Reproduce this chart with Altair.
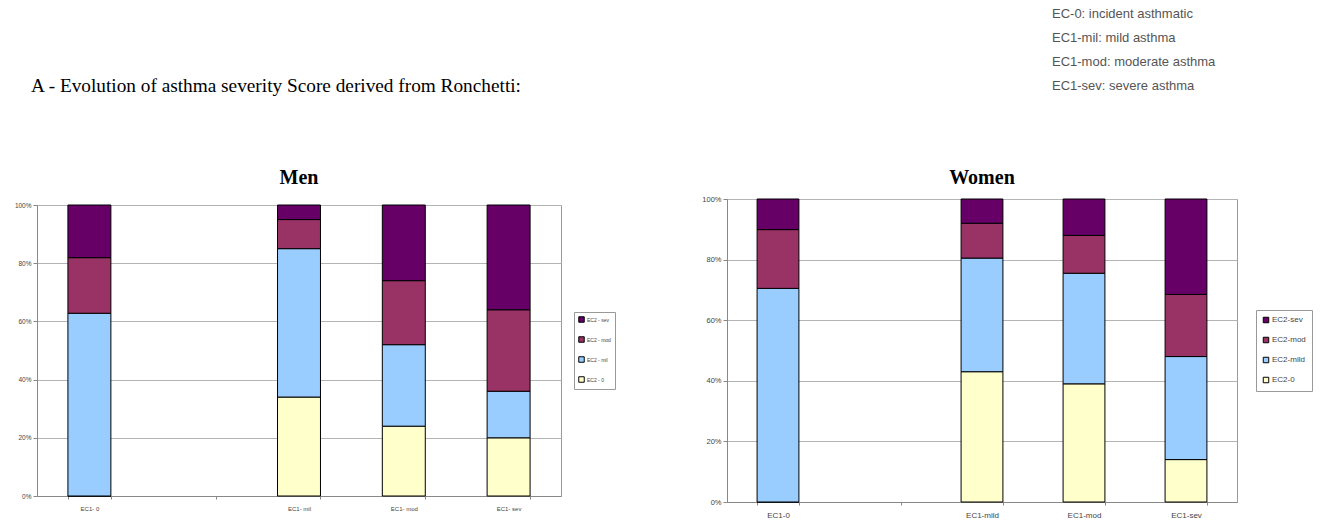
import altair as alt
import pandas as pd

heading = "A - Evolution of asthma severity Score derived from Ronchetti:"
notes = ["EC-0: incident asthmatic", "EC1-mil: mild asthma",
         "EC1-mod: moderate asthma", "EC1-sev: severe asthma"]

# Men
men_categories = ["EC1- 0", " ", "EC1- mil", "EC1- mod", "EC1- sev"]
men_bars = ["EC1- 0", "EC1- mil", "EC1- mod", "EC1- sev"]
men_series = ["EC2 - sev", "EC2 - mod", "EC2 - mil", "EC2 - 0"]
men_ec2_0 = [0, 34, 24, 20]
men_ec2_mild = [62.8, 51, 28, 16]
men_ec2_mod = [19.1, 10, 22, 28]
men_ec2_sev = [18.1, 5, 26, 36]

# Women
women_categories = ["EC1-0", " ", "EC1-mild", "EC1-mod", "EC1-sev"]
women_bars = ["EC1-0", "EC1-mild", "EC1-mod", "EC1-sev"]
women_series = ["EC2-sev", "EC2-mod", "EC2-mild", "EC2-0"]
women_ec2_0 = [0, 43, 39, 14]
women_ec2_mild = [70.5, 37.5, 36.5, 34]
women_ec2_mod = [19.4, 11.5, 12.5, 20.5]
women_ec2_sev = [10.1, 8, 12, 31.5]

colors = ["#660066", "#993366", "#99CCFF", "#FFFFCC"]  # sev, mod, mild, 0


def long_df(bars, series, s0, smild, smod, ssev):
    rows = []
    stacks = [(series[3], s0, 0), (series[2], smild, 1), (series[1], smod, 2), (series[0], ssev, 3)]
    for i, c in enumerate(bars):
        for name, vals, rank in stacks:
            rows.append({"cat": c, "series": name, "value": vals[i], "rank": rank})
    return pd.DataFrame(rows)


men_df = long_df(men_bars, men_series, men_ec2_0, men_ec2_mild, men_ec2_mod, men_ec2_sev)
women_df = long_df(women_bars, women_series, women_ec2_0, women_ec2_mild, women_ec2_mod, women_ec2_sev)


def panel(df, cats, series, title, w, h, toff, lx, ly, xlab, ylab, leg_size, row_pad, leg_pad):
    return alt.Chart(df).mark_bar(stroke="black", strokeWidth=1).encode(
        x=alt.X("cat:N", sort=cats,
                scale=alt.Scale(domain=cats, paddingInner=0.59, paddingOuter=0.295),
                axis=alt.Axis(title=None, labelAngle=0, tickBand="extent", tickSize=3,
                              tickColor="#888", domainColor="#888", labelFontSize=xlab,
                              labelColor="#444", labelFont="Liberation Sans", labelPadding=6)),
        y=alt.Y("value:Q", stack="normalize", scale=alt.Scale(domain=[0, 1]),
                axis=alt.Axis(title=None, format=".0%", values=[0, 0.2, 0.4, 0.6, 0.8, 1.0],
                              tickSize=4, tickColor="#888", domainColor="#888",
                              gridColor="#b4b4b4", labelFontSize=ylab, labelColor="#444",
                              labelFont="Liberation Sans", labelPadding=2)),
        color=alt.Color("series:N", scale=alt.Scale(domain=series, range=colors),
                        legend=alt.Legend(title=None, orient="none", legendX=lx, legendY=ly,
                                          symbolType="square", symbolSize=30,
                                          symbolStrokeColor="black", symbolStrokeWidth=1,
                                          labelFontSize=leg_size, labelColor="#444",
                                          labelFont="Liberation Sans", rowPadding=row_pad,
                                          padding=leg_pad, strokeColor="#999", fillColor="white",
                                          labelOffset=2)),
        order=alt.Order("rank:Q", sort="ascending"),
    ).properties(
        width=w, height=h,
        title=alt.TitleParams(title, font="Liberation Serif", fontSize=20, fontWeight="bold",
                              color="black", offset=toff),
        view=alt.ViewBackground(stroke="#999", strokeWidth=1),
    )


men = panel(men_df, men_categories, men_series, "Men", 524, 291, 14, 537, 312,
            6, 6.5, 5, 9, 4)
women = panel(women_df, women_categories, women_series, "Women", 510, 303, 7, 529, 310,
              8, 7.5, 8, 10, 6)

base = alt.Chart(pd.DataFrame({"k": [0]}))
head = base.mark_text(font="Liberation Serif", fontSize=19.3, align="left", baseline="alphabetic",
                      color="black").encode(x=alt.value(-6), y=alt.value(92), text=alt.value(heading))
header_left = head.properties(width=500, height=167, view=alt.ViewBackground(strokeOpacity=0))

note = base.mark_text(font="Liberation Sans", fontSize=13, align="left", baseline="top",
                      lineBreak="\n", lineHeight=24, color="#555").encode(
    x=alt.value(325), y=alt.value(8), text=alt.value("\n".join(notes)))
header_right = note.properties(width=500, height=167, view=alt.ViewBackground(strokeOpacity=0))

col_men = alt.vconcat(header_left, men, spacing=0)
col_women = alt.vconcat(header_right, women, spacing=0)

chart = alt.hconcat(col_men, col_women, spacing=85).resolve_scale(color="independent").properties(
    padding={"left": 13, "top": 0, "right": 0, "bottom": 0}
).configure(background="white")

chart.save("out.html", embed_options={"renderer": "svg", "actions": False})
